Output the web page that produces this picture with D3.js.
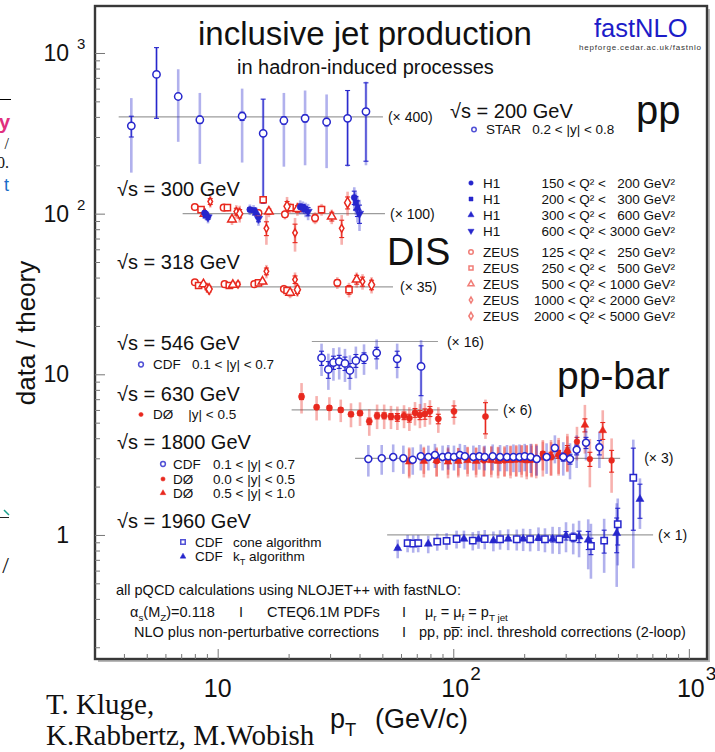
<!DOCTYPE html>
<html><head><meta charset="utf-8">
<script src="https://cdn.jsdelivr.net/npm/d3@7"></script>
<style>
html,body{margin:0;padding:0;background:#fff;}
svg{display:block;font-family:"Liberation Sans",Arial,Helvetica,sans-serif;}
svg text{white-space:pre;}
</style></head><body>
<svg id="c" width="715" height="752"></svg>
<script>
// ================= DATA (ratio data/theory, errors in ratio units) =================
// pp, sqrt(s)=200 GeV, STAR (x400)
const starPt    = [4.3, 5.5, 6.8, 8.4, 12.7, 15.6, 19.1, 23.5, 29.0, 35.6, 42.6];
const starRatio = [0.88, 1.84, 1.34, 0.96, 1.01, 0.79, 0.95, 0.98, 0.93, 0.98, 1.08];
const starStat  = [0.13, 0.86, 0.05, 0.05, 0.06, 0.50, 0.05, 0.05, 0.05, 0.48, 0.55];
const starTot   = [0.43, 0.86, 0.64, 0.45, 0.49, 0.50, 0.46, 0.48, 0.45, 0.49, 0.58];

// DIS sqrt(s)=300 GeV (x100): H1 Q2 bins
const h1aPt = [8.8, 13.7, 22.4, 38.0], h1aRatio = [1.01, 1.06, 1.10, 1.26], h1aStat = [0.02, 0.03, 0.05, 0.12], h1aTot = [0.07, 0.08, 0.11, 0.20];
const h1bPt = [8.9, 14.2, 23.0, 38.6], h1bRatio = [0.98, 1.05, 1.09, 1.17], h1bStat = [0.02, 0.03, 0.05, 0.11], h1bTot = [0.07, 0.08, 0.10, 0.19];
const h1cPt = [9.0, 14.6, 23.6, 39.2], h1cRatio = [0.97, 1.01, 1.06, 1.08], h1cStat = [0.02, 0.03, 0.05, 0.12], h1cTot = [0.07, 0.08, 0.11, 0.20];
const h1dPt = [9.1, 14.9, 24.2, 40.0], h1dRatio = [0.95, 0.93, 1.03, 1.00], h1dStat = [0.03, 0.04, 0.06, 0.13], h1dTot = [0.08, 0.09, 0.12, 0.22];
// DIS sqrt(s)=300 GeV (x100): ZEUS Q2 bins
const z3aPt = [8.0, 10.6, 14.9, 19.3, 25.9], z3aRatio = [1.10, 1.09, 1.01, 0.99, 0.94], z3aStat = [0.02, 0.02, 0.03, 0.04, 0.05], z3aTot = [0.05, 0.05, 0.06, 0.07, 0.08];
const z3bPt = [8.5, 11.0, 15.6, 20.3, 27.6], z3bRatio = [1.06, 1.09, 1.22, 1.09, 1.06], z3bStat = [0.02, 0.02, 0.03, 0.04, 0.05], z3bTot = [0.05, 0.06, 0.07, 0.08, 0.09];
const z3cPt = [8.8, 11.5, 16.5, 21.8, 30.5], z3cRatio = [1.00, 0.92, 1.03, 1.07, 0.96], z3cStat = [0.03, 0.03, 0.04, 0.05, 0.06], z3cTot = [0.06, 0.07, 0.08, 0.10, 0.10];
const z3dPt = [9.3, 12.0, 16.1, 21.3, 33.6], z3dRatio = [1.19, 1.03, 0.81, 0.76, 0.81], z3dStat = [0.05, 0.05, 0.08, 0.10, 0.10], z3dTot = [0.10, 0.10, 0.17, 0.18, 0.17];
const z3ePt = [12.4, 19.7, 35.6], z3eRatio = [1.00, 1.11, 1.17], z3eStat = [0.06, 0.08, 0.10], z3eTot = [0.12, 0.16, 0.20];

// DIS sqrt(s)=318 GeV (x35): ZEUS Q2 bins
const z8aPt = [8.0, 10.7, 14.3, 19.1, 32.2], z8aRatio = [1.07, 1.04, 1.04, 0.97, 1.06], z8aStat = [0.02, 0.02, 0.02, 0.03, 0.05], z8aTot = [0.05, 0.05, 0.05, 0.06, 0.09];
const z8bPt = [8.3, 11.2, 14.9, 19.7, 36.1], z8bRatio = [1.02, 1.02, 1.06, 0.95, 0.96], z8bStat = [0.02, 0.02, 0.03, 0.03, 0.06], z8bTot = [0.05, 0.05, 0.06, 0.06, 0.10];
const z8cPt = [8.7, 11.6, 15.5, 20.3, 38.9], z8cRatio = [1.04, 1.03, 1.08, 0.92, 1.11], z8cStat = [0.02, 0.03, 0.03, 0.04, 0.07], z8cTot = [0.05, 0.06, 0.06, 0.07, 0.12];
const z8dPt = [9.0, 12.2, 16.1, 21.3, 41.2], z8dRatio = [0.99, 1.04, 1.25, 1.11, 1.08], z8dStat = [0.03, 0.03, 0.06, 0.06, 0.07], z8dTot = [0.07, 0.06, 0.12, 0.12, 0.12];
const z8ePt = [9.2, 21.8, 45.0], z8eRatio = [0.97, 0.96, 1.03], z8eStat = [0.04, 0.05, 0.07], z8eTot = [0.08, 0.09, 0.12];

// ppbar sqrt(s)=546 GeV CDF (x16)
const c546Pt    = [27.6, 29.5, 31.0, 32.8, 34.7, 36.4, 38.6, 41.8, 47.3, 57.8, 73.0];
const c546Ratio = [0.79, 0.67, 0.74, 0.75, 0.73, 0.66, 0.76, 0.79, 0.85, 0.78, 0.70];
const c546Stat  = [0.08, 0.08, 0.07, 0.07, 0.07, 0.07, 0.07, 0.06, 0.07, 0.09, 0.24];
const c546Tot   = [0.18, 0.17, 0.17, 0.17, 0.17, 0.16, 0.17, 0.17, 0.18, 0.19, 0.32];

// ppbar sqrt(s)=630 GeV D0 (x6)
const d630Pt    = [22.7, 26.3, 29.8, 33.3, 36.8, 40.2, 44.0, 47.5, 50.9, 54.4, 57.9, 61.8, 65.1, 68.8, 72.2, 75.8, 79.6, 86.4, 100.7, 137];
const d630Ratio = [1.21, 1.04, 1.03, 1.00, 0.94, 0.955, 0.85, 0.92, 0.92, 0.91, 0.90, 0.92, 0.89, 0.96, 0.93, 0.945, 0.98, 0.88, 0.98, 0.91];
const d630Stat  = [0.05, 0.03, 0.03, 0.03, 0.03, 0.03, 0.04, 0.04, 0.04, 0.04, 0.05, 0.05, 0.05, 0.06, 0.06, 0.07, 0.07, 0.06, 0.08, 0.20];
const d630Tot   = [0.26, 0.18, 0.17, 0.16, 0.16, 0.16, 0.16, 0.16, 0.16, 0.15, 0.15, 0.15, 0.15, 0.16, 0.16, 0.16, 0.17, 0.16, 0.17, 0.25];

// ppbar sqrt(s)=1800 GeV (x3): CDF 0.1<|y|<0.7
const c18Pt    = [43.6, 49.7, 55.6, 61.4, 67.3, 72.8, 78.4, 83.6, 90.1, 95.2, 100.7, 106.7, 112, 121.7, 129, 136, 147, 158, 169, 180, 191, 201, 213, 226, 249, 270, 293, 313, 334, 366, 417];
const c18Ratio = [0.99, 1.00, 1.02, 1.00, 0.98, 1.03, 1.02, 1.05, 1.02, 1.03, 1.02, 1.05, 1.03, 1.02, 1.03, 1.02, 1.03, 1.02, 1.02, 1.02, 1.02, 1.03, 1.02, 0.99, 1.02, 1.16, 1.02, 0.99, 1.13, 1.25, 1.17];
const c18Stat  = [0.01, 0.01, 0.01, 0.01, 0.01, 0.01, 0.01, 0.01, 0.01, 0.01, 0.01, 0.01, 0.01, 0.01, 0.01, 0.01, 0.02, 0.02, 0.02, 0.02, 0.03, 0.03, 0.03, 0.04, 0.04, 0.05, 0.06, 0.07, 0.08, 0.10, 0.12];
const c18Tot   = [0.22, 0.21, 0.20, 0.20, 0.19, 0.19, 0.18, 0.18, 0.18, 0.18, 0.18, 0.18, 0.18, 0.18, 0.18, 0.18, 0.19, 0.19, 0.19, 0.20, 0.20, 0.20, 0.21, 0.21, 0.22, 0.23, 0.24, 0.25, 0.26, 0.28, 0.30];
// D0 0.0<|y|<0.5
const d18aPt    = [65, 75, 85, 95, 105, 115, 125, 135, 145, 155, 165, 175, 185, 195, 205, 215, 225, 240, 260, 280, 305, 335, 380, 470];
const d18aRatio = [0.97, 0.99, 0.96, 0.98, 0.97, 0.99, 0.98, 0.97, 0.99, 0.98, 0.97, 0.99, 0.98, 1.00, 0.99, 0.98, 1.00, 1.07, 1.02, 1.05, 1.10, 1.27, 0.99, 0.97];
const d18aStat  = [0.01, 0.01, 0.01, 0.01, 0.01, 0.01, 0.01, 0.01, 0.01, 0.01, 0.02, 0.02, 0.02, 0.02, 0.02, 0.03, 0.03, 0.03, 0.04, 0.05, 0.06, 0.08, 0.10, 0.15];
const d18aTot   = [0.20, 0.19, 0.19, 0.19, 0.19, 0.19, 0.19, 0.20, 0.20, 0.20, 0.20, 0.21, 0.21, 0.21, 0.22, 0.22, 0.22, 0.23, 0.24, 0.25, 0.27, 0.30, 0.33, 0.36];
// D0 0.5<|y|<1.0
const d18bPt    = [65, 75, 85, 95, 105, 115, 125, 135, 145, 155, 165, 175, 185, 195, 205, 215, 225, 240, 260, 280, 305, 362, 431];
const d18bRatio = [0.95, 0.96, 0.97, 0.95, 0.96, 0.97, 0.96, 0.98, 0.97, 0.96, 0.98, 0.97, 0.99, 0.98, 0.97, 1.00, 0.99, 1.02, 1.04, 1.06, 1.12, 1.61, 1.49];
const d18bStat  = [0.01, 0.01, 0.01, 0.01, 0.01, 0.01, 0.01, 0.01, 0.02, 0.02, 0.02, 0.02, 0.02, 0.03, 0.03, 0.03, 0.04, 0.04, 0.05, 0.06, 0.08, 0.15, 0.18];
const d18bTot   = [0.20, 0.20, 0.20, 0.20, 0.20, 0.20, 0.20, 0.21, 0.21, 0.21, 0.21, 0.22, 0.22, 0.22, 0.23, 0.23, 0.24, 0.25, 0.26, 0.28, 0.30, 0.54, 0.50];

// ppbar sqrt(s)=1960 GeV (x1): CDF cone and kT
const c19cPt    = [64.0, 67.6, 71.0, 85.5, 93.7, 103.3, 121, 136, 158, 186, 212, 245, 282, 323, 384, 437, 499, 581];
const c19cRatio = [0.89, 0.885, 0.89, 0.908, 0.918, 0.944, 0.921, 0.944, 0.94, 0.94, 0.94, 0.94, 0.94, 0.967, 0.854, 0.921, 1.166, 2.27];
const c19cStat  = [0.01, 0.01, 0.01, 0.01, 0.01, 0.01, 0.01, 0.01, 0.01, 0.02, 0.02, 0.03, 0.04, 0.06, 0.10, 0.15, 0.30, 1.20];
const c19cTot   = [0.11, 0.11, 0.11, 0.11, 0.11, 0.12, 0.12, 0.13, 0.13, 0.14, 0.15, 0.16, 0.18, 0.21, 0.32, 0.34, 0.52, 1.65];
const c19kPt    = [58.1, 78.3, 111, 128, 148, 171, 198, 230, 264, 301, 342, 374, 494, 620];
const c19kRatio = [0.826, 0.879, 0.944, 0.94, 0.921, 0.944, 0.944, 0.954, 0.944, 0.99, 0.976, 0.931, 1.025, 1.67];
const c19kStat  = [0.01, 0.01, 0.01, 0.01, 0.01, 0.02, 0.02, 0.03, 0.04, 0.06, 0.08, 0.12, 0.25, 0.40];
const c19kTot   = [0.11, 0.11, 0.12, 0.12, 0.13, 0.14, 0.15, 0.16, 0.18, 0.21, 0.25, 0.32, 0.55, 0.58];

// theory reference lines (scale factor and pT range)
const refFactor = [400, 100, 35, 16, 6, 3, 1];
const refFrom   = [3.8, 7.1, 9.3, 25.1, 20.6, 38.3, 52.4];
const refTo     = [50.3, 51.3, 55.5, 86.1, 155, 511, 705];
const refLabel  = ["(× 400)", "(× 100)", "(× 35)", "(× 16)", "(× 6)", "(× 3)", "(× 1)"];

// axis tick labels
const yTickExp = [0, 1, 2, 3];
const xTickExp = [1, 2, 3];

// ================= RENDER =================
const blue = "#2626cc", red = "#e8281e";
const svg = d3.select("#c");
svg.append("rect").attr("width", 715).attr("height", 752).attr("fill", "#fff");

const L = 95, R = 707, T = 6, B = 659;
const x = d3.scaleLog().domain([3.015, 1194]).range([L, R]);
const y = d3.scaleLog().domain([0.169, 1961]).range([B, T]);

function rich(g, x0, y0, parts, size, opts = {}) {
  const t = g.append("text").attr("x", x0).attr("y", y0).attr("font-size", size);
  if (opts.anchor) t.attr("text-anchor", opts.anchor);
  t.attr("fill", opts.fill || "#111");
  if (opts.family) t.attr("font-family", opts.family);
  let shift = 0;
  parts.forEach(p => {
    const [s, k] = typeof p === "string" ? [p, "n"] : p;
    const target = k === "sub" ? size * 0.3 : k === "sup" ? -size * 0.42 : 0;
    const ts = t.append("tspan").text(s).attr("dy", target - shift);
    if (k !== "n") ts.attr("font-size", size * 0.68);
    shift = target;
  });
  return t;
}

const symTypes = {circle: d3.symbolCircle, square: d3.symbolSquare, triangle: d3.symbolTriangle, triangleDown: d3.symbolTriangle, diamond: d3.symbolDiamond};
function marker(g, cx, cy, shape, size, color, filled, opacity = 1) {
  g.append("path")
    .attr("d", d3.symbol().type(symTypes[shape]).size(size)())
    .attr("transform", `translate(${cx},${cy})` + (shape === "triangleDown" ? " rotate(180)" : ""))
    .attr("fill", filled ? color : "#fff")
    .attr("stroke", color).attr("stroke-width", filled ? 0.5 : 1.5)
    .attr("opacity", opacity);
}

// left-edge fragments from the neighbouring page
const frag = svg.append("g");
frag.append("line").attr("x1", 0).attr("x2", 11).attr("y1", 99.5).attr("y2", 99.5).attr("stroke", "#000").attr("stroke-width", 1);
frag.append("text").attr("x", 10).attr("y", 129).attr("text-anchor", "end").attr("font-size", 20).attr("font-weight", "bold").attr("fill", "#e0307f").text("ry");
frag.append("text").attr("x", 9).attr("y", 149).attr("text-anchor", "end").attr("font-size", 16).attr("font-family", "Liberation Serif").attr("fill", "#111").text("/");
frag.append("text").attr("x", 9).attr("y", 168).attr("text-anchor", "end").attr("font-size", 16).attr("font-family", "Liberation Serif").attr("fill", "#111").text("0.");
frag.append("text").attr("x", 9).attr("y", 191).attr("text-anchor", "end").attr("font-size", 18).attr("fill", "#1a6cc8").text("t");
frag.append("path").attr("d", "M0,517.5 H9").attr("stroke", "#222").attr("stroke-width", 1);
frag.append("path").attr("d", "M4,510 L9,515").attr("stroke", "#1aa08c").attr("stroke-width", 1.5);
frag.append("text").attr("x", 9).attr("y", 573).attr("text-anchor", "end").attr("font-size", 24).attr("font-family", "Liberation Serif").attr("fill", "#111").text("/");

// frame shadow + frame
svg.append("path").attr("d", `M${R + 2},${T + 3} V${B + 2} H${L + 3}`).attr("fill", "none").attr("stroke", "#b8b8b8").attr("stroke-width", 2);
svg.append("rect").attr("x", L).attr("y", T).attr("width", R - L).attr("height", B - T)
  .attr("fill", "none").attr("stroke", "#383838").attr("stroke-width", 2.4);

// axes ticks (inside the frame)
const isDecade = v => Math.abs(Math.log10(v) - Math.round(Math.log10(v))) < 1e-9;
const yAll = y.ticks().filter(v => v >= 0.17 && v <= 1961);
const yMaj = yAll.filter(isDecade), yMin = yAll.filter(v => !isDecade(v));
const xAll = x.ticks().filter(v => v >= 3.02 && v <= 1194);
const xMaj = xAll.filter(isDecade), xMin = xAll.filter(v => !isDecade(v));
function styleAxis(g) { g.select(".domain").remove(); g.selectAll("line").attr("stroke", "#777").attr("stroke-width", 1); g.selectAll("text").remove(); }
svg.append("g").attr("transform", `translate(${L},0)`).call(d3.axisRight(y).tickValues(yMin).tickSize(5).tickFormat("")).call(styleAxis);
svg.append("g").attr("transform", `translate(${L},0)`).call(d3.axisRight(y).tickValues(yMaj).tickSize(10).tickFormat("")).call(styleAxis);
svg.append("g").attr("transform", `translate(0,${B})`).call(d3.axisTop(x).tickValues(xMin).tickSize(5).tickFormat("")).call(styleAxis);
svg.append("g").attr("transform", `translate(0,${B})`).call(d3.axisTop(x).tickValues(xMaj).tickSize(10).tickFormat("")).call(styleAxis);

// y tick labels
yTickExp.forEach(e => {
  const ty = y(Math.pow(10, e));
  const base = e === 0 ? "1" : "10";
  svg.append("text").attr("x", 69).attr("y", ty + 8).attr("text-anchor", "end").attr("font-size", 23).attr("fill", "#111").text(base);
  if (e >= 2) svg.append("text").attr("x", 77).attr("y", ty - 4).attr("font-size", 15).attr("fill", "#111").text(String(e));
});
// x tick labels
xTickExp.forEach(e => {
  const tx = x(Math.pow(10, e));
  svg.append("text").attr("x", tx + (e === 1 ? 0 : 2)).attr("y", 697).attr("text-anchor", "middle").attr("font-size", 25).attr("fill", "#111").text("10");
  if (e >= 2) svg.append("text").attr("x", tx + 17).attr("y", 680).attr("font-size", 19).attr("fill", "#111").text(String(e));
});

// axis titles
svg.append("text").attr("transform", "translate(35,333) rotate(-90)").attr("text-anchor", "middle").attr("font-size", 26).attr("fill", "#111").text("data / theory");
rich(svg, 330, 728, ["p", ["T", "sub"]], 27);
svg.append("text").attr("x", 375).attr("y", 728).attr("font-size", 27).attr("fill", "#111").text("(GeV/c)");

// authors
svg.append("text").attr("x", 46).attr("y", 714).attr("font-family", "Liberation Serif").attr("font-size", 29).attr("fill", "#111").text("T. Kluge,");
svg.append("text").attr("x", 46).attr("y", 745).attr("font-family", "Liberation Serif").attr("font-size", 29).attr("fill", "#111").text("K.Rabbertz, M.Wobish");

// reference lines
const plot = svg.append("g");
const labelGap = [5, 5, 7, 9, 5, 24, 5];
refFactor.forEach((f, i) => {
  plot.append("line").attr("x1", x(refFrom[i])).attr("x2", x(refTo[i])).attr("y1", y(f)).attr("y2", y(f))
    .attr("stroke", "#9c9c9c").attr("stroke-width", 1.2);
  plot.append("text").attr("x", x(refTo[i]) + labelGap[i]).attr("y", y(f) + 5).attr("font-size", 14).attr("fill", "#111").text(refLabel[i]);
});

// series table
const series = [
  {pt: starPt, ratio: starRatio, stat: starStat, tot: starTot, factor: 400, color: blue, shape: "circle", filled: false, size: 42},
  {pt: z3aPt, ratio: z3aRatio, stat: z3aStat, tot: z3aTot, factor: 100, color: red, shape: "circle", filled: false, size: 34},
  {pt: z3bPt, ratio: z3bRatio, stat: z3bStat, tot: z3bTot, factor: 100, color: red, shape: "square", filled: false, size: 38},
  {pt: z3cPt, ratio: z3cRatio, stat: z3cStat, tot: z3cTot, factor: 100, color: red, shape: "triangle", filled: false, size: 32},
  {pt: z3dPt, ratio: z3dRatio, stat: z3dStat, tot: z3dTot, factor: 100, color: red, shape: "diamond", filled: false, size: 18},
  {pt: z3ePt, ratio: z3eRatio, stat: z3eStat, tot: z3eTot, factor: 100, color: red, shape: "diamond", filled: false, size: 32},
  {pt: h1aPt, ratio: h1aRatio, stat: h1aStat, tot: h1aTot, factor: 100, color: blue, shape: "circle", filled: true, size: 30},
  {pt: h1bPt, ratio: h1bRatio, stat: h1bStat, tot: h1bTot, factor: 100, color: blue, shape: "square", filled: true, size: 30},
  {pt: h1cPt, ratio: h1cRatio, stat: h1cStat, tot: h1cTot, factor: 100, color: blue, shape: "triangle", filled: true, size: 30},
  {pt: h1dPt, ratio: h1dRatio, stat: h1dStat, tot: h1dTot, factor: 100, color: blue, shape: "triangleDown", filled: true, size: 30},
  {pt: z8aPt, ratio: z8aRatio, stat: z8aStat, tot: z8aTot, factor: 35, color: red, shape: "circle", filled: false, size: 34},
  {pt: z8bPt, ratio: z8bRatio, stat: z8bStat, tot: z8bTot, factor: 35, color: red, shape: "square", filled: false, size: 38},
  {pt: z8cPt, ratio: z8cRatio, stat: z8cStat, tot: z8cTot, factor: 35, color: red, shape: "triangle", filled: false, size: 32},
  {pt: z8dPt, ratio: z8dRatio, stat: z8dStat, tot: z8dTot, factor: 35, color: red, shape: "diamond", filled: false, size: 18},
  {pt: z8ePt, ratio: z8eRatio, stat: z8eStat, tot: z8eTot, factor: 35, color: red, shape: "diamond", filled: false, size: 32},
  {pt: c546Pt, ratio: c546Ratio, stat: c546Stat, tot: c546Tot, factor: 16, color: blue, shape: "circle", filled: false, size: 42},
  {pt: d630Pt, ratio: d630Ratio, stat: d630Stat, tot: d630Tot, factor: 6, color: red, shape: "circle", filled: true, size: 30},
  {pt: d18aPt, ratio: d18aRatio, stat: d18aStat, tot: d18aTot, factor: 3, color: red, shape: "circle", filled: true, size: 26},
  {pt: d18bPt, ratio: d18bRatio, stat: d18bStat, tot: d18bTot, factor: 3, color: red, shape: "triangle", filled: true, size: 26},
  {pt: c18Pt, ratio: c18Ratio, stat: c18Stat, tot: c18Tot, factor: 3, color: blue, shape: "circle", filled: false, size: 38},
  {pt: c19kPt, ratio: c19kRatio, stat: c19kStat, tot: c19kTot, factor: 1, color: blue, shape: "triangle", filled: true, size: 28},
  {pt: c19cPt, ratio: c19cRatio, stat: c19cStat, tot: c19cTot, factor: 1, color: blue, shape: "square", filled: false, size: 40}
];

const ymin = 0.17;
const errG = plot.append("g"), markG = plot.append("g");
series.forEach(s => {
  s.pt.forEach((p, i) => {
    const v = s.ratio[i] * s.factor, t = s.tot[i] * s.factor, st = s.stat[i] * s.factor;
    const X = x(p);
    errG.append("line").attr("x1", X).attr("x2", X)
      .attr("y1", y(Math.max(v - t, ymin))).attr("y2", y(v + t))
      .attr("stroke", s.color).attr("stroke-opacity", 0.36).attr("stroke-width", 2.6);
    const y1 = y(Math.max(v - st, ymin)), y2 = y(v + st);
    errG.append("line").attr("x1", X).attr("x2", X).attr("y1", y1).attr("y2", y2)
      .attr("stroke", s.color).attr("stroke-width", 1.1);
    [y1, y2].forEach(yy => errG.append("line").attr("x1", X - 2.5).attr("x2", X + 2.5).attr("y1", yy).attr("y2", yy)
      .attr("stroke", s.color).attr("stroke-width", 1.1));
  });
  s.pt.forEach((p, i) => marker(markG, x(p), y(s.ratio[i] * s.factor), s.shape, s.size, s.color, s.filled));
});

// ================= TEXT / LEGENDS =================
const tg = svg.append("g");
tg.append("text").attr("x", 198).attr("y", 45).attr("font-size", 33).attr("fill", "#111").text("inclusive jet production");
tg.append("text").attr("x", 237).attr("y", 74).attr("font-size", 20).attr("fill", "#111").text("in hadron-induced processes");
tg.append("text").attr("x", 594).attr("y", 37).attr("font-size", 25.5).attr("fill", "#1c1cc8").text("fastNLO");
tg.append("text").attr("x", 579).attr("y", 49.5).attr("font-size", 8).attr("textLength", 122).attr("fill", "#333").text("hepforge.cedar.ac.uk/fastnlo");

tg.append("text").attr("x", 450).attr("y", 118).attr("font-size", 20).attr("fill", "#111").text("√s = 200 GeV");
tg.append("text").attr("x", 636).attr("y", 124).attr("font-size", 40).attr("fill", "#111").text("pp");
marker(tg, 474, 129.5, "circle", 16, blue, false, 0.8);
tg.append("text").attr("x", 486).attr("y", 134).attr("font-size", 13.5).attr("fill", "#111").text("STAR   0.2 < |y| < 0.8");

const qRows = [
  ["H1", "150 < Q² <   200 GeV²", "circle", blue, true],
  ["H1", "200 < Q² <   300 GeV²", "square", blue, true],
  ["H1", "300 < Q² <   600 GeV²", "triangle", blue, true],
  ["H1", "600 < Q² < 3000 GeV²", "triangleDown", blue, true],
  ["ZEUS", "125 < Q² <   250 GeV²", "circle", red, false],
  ["ZEUS", "250 < Q² <   500 GeV²", "square", red, false],
  ["ZEUS", "500 < Q² < 1000 GeV²", "triangle", red, false],
  ["ZEUS", "1000 < Q² < 2000 GeV²", "diamond", red, false],
  ["ZEUS", "2000 < Q² < 5000 GeV²", "diamond", red, false]
];
const qY = [183, 199, 215, 231, 252, 268, 284, 300, 316];
qRows.forEach((r, i) => {
  marker(tg, 471, qY[i], r[2], i === 7 ? 10 : 16, r[3], r[4], r[4] ? 1 : 0.6);
  tg.append("text").attr("x", 483).attr("y", qY[i] + 5).attr("font-size", 13.5).attr("fill", "#111").text(r[0]);
  tg.append("text").attr("x", 675).attr("y", qY[i] + 5).attr("text-anchor", "end").attr("font-size", 13.5).attr("fill", "#111").text(r[1]);
});
tg.append("text").attr("x", 387).attr("y", 265).attr("font-size", 38).attr("fill", "#111").text("DIS");
tg.append("text").attr("x", 557).attr("y", 389).attr("font-size", 39).attr("fill", "#111").text("pp-bar");

tg.append("text").attr("x", 117).attr("y", 196).attr("font-size", 20).attr("fill", "#111").text("√s = 300 GeV");
tg.append("text").attr("x", 117).attr("y", 269).attr("font-size", 20).attr("fill", "#111").text("√s = 318 GeV");
tg.append("text").attr("x", 117).attr("y", 350).attr("font-size", 20).attr("fill", "#111").text("√s = 546 GeV");
marker(tg, 141, 364.5, "circle", 18, blue, false, 0.8);
tg.append("text").attr("x", 153).attr("y", 369).attr("font-size", 13.5).attr("fill", "#111").text("CDF   0.1 < |y| < 0.7");
tg.append("text").attr("x", 117).attr("y", 400.5).attr("font-size", 20).attr("fill", "#111").text("√s = 630 GeV");
marker(tg, 141, 414.5, "circle", 14, red, true);
tg.append("text").attr("x", 153).attr("y", 419).attr("font-size", 13.5).attr("fill", "#111").text("DØ    |y| < 0.5");
tg.append("text").attr("x", 117).attr("y", 449).attr("font-size", 20).attr("fill", "#111").text("√s = 1800 GeV");
const r18 = [["CDF", "0.1 < |y| < 0.7", "circle", blue, false], ["DØ", "0.0 < |y| < 0.5", "circle", red, true], ["DØ", "0.5 < |y| < 1.0", "triangle", red, true]];
const r18Y = [464, 479, 493];
r18.forEach((r, i) => {
  marker(tg, 163, r18Y[i], r[2], r[4] ? 14 : 18, r[3], r[4], r[4] ? 1 : 0.8);
  tg.append("text").attr("x", 173).attr("y", r18Y[i] + 4.5).attr("font-size", 13.5).attr("fill", "#111").text(r[0]);
  tg.append("text").attr("x", 213).attr("y", r18Y[i] + 4.5).attr("font-size", 13.5).attr("fill", "#111").text(r[1]);
});
tg.append("text").attr("x", 117).attr("y", 528).attr("font-size", 20).attr("fill", "#111").text("√s = 1960 GeV");
marker(tg, 183, 542, "square", 20, blue, false, 0.8);
tg.append("text").attr("x", 195).attr("y", 546.5).attr("font-size", 13.5).attr("fill", "#111").text("CDF");
tg.append("text").attr("x", 233).attr("y", 546.5).attr("font-size", 13.5).attr("fill", "#111").text("cone algorithm");
marker(tg, 183, 556.5, "triangle", 14, blue, true);
tg.append("text").attr("x", 195).attr("y", 561).attr("font-size", 13.5).attr("fill", "#111").text("CDF");
rich(tg, 233, 561, ["k", ["T", "sub"], " algorithm"], 13.5);

// footer
tg.append("text").attr("x", 116).attr("y", 595).attr("font-size", 14.5).attr("fill", "#111").text("all pQCD calculations using NLOJET++ with fastNLO:");
rich(tg, 130, 616.5, ["α", ["s", "sub"], "(M", ["Z", "sub"], ")=0.118"], 14.5);
tg.append("text").attr("x", 239).attr("y", 616.5).attr("font-size", 14.5).attr("fill", "#111").text("I");
tg.append("text").attr("x", 267).attr("y", 616.5).attr("font-size", 14.5).attr("fill", "#111").text("CTEQ6.1M PDFs");
tg.append("text").attr("x", 402).attr("y", 616.5).attr("font-size", 14.5).attr("fill", "#111").text("I");
rich(tg, 425, 616.5, ["μ", ["r", "sub"], " = μ", ["f", "sub"], " = p", ["T jet", "sub"]], 14.5);
tg.append("text").attr("x", 134).attr("y", 636.5).attr("font-size", 14.5).attr("fill", "#111").text("NLO plus non-perturbative corrections");
tg.append("text").attr("x", 402).attr("y", 636.5).attr("font-size", 14.5).attr("fill", "#111").text("I");
tg.append("text").attr("x", 419).attr("y", 636.5).attr("font-size", 14.5).attr("fill", "#111").text("pp, pp̅: incl. threshold corrections (2-loop)");
</script>
</body></html>
